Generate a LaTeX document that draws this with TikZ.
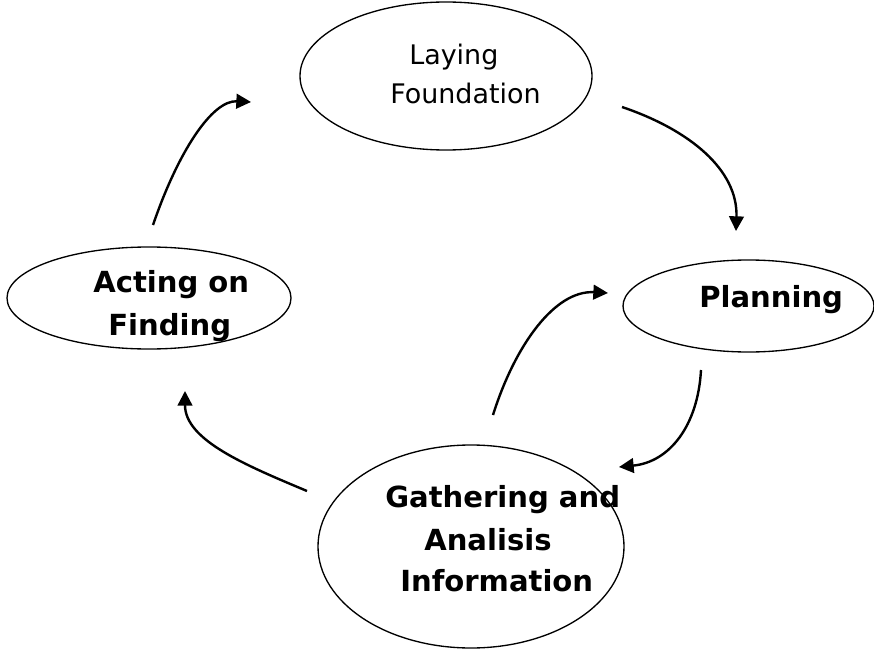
\documentclass[tikz,border=0pt]{standalone}
\usepackage{fontspec}
\setmainfont{DejaVu Sans}
\usetikzlibrary{shapes.geometric,arrows.meta}
\tikzset{
  oval/.style={ellipse, draw, line width=1pt, inner sep=0pt},
  reg/.style={anchor=base west, inner sep=0pt, font=\fontsize{20.2pt}{24pt}\selectfont},
  bld/.style={anchor=base west, inner sep=0pt, font=\fontsize{21.8pt}{26pt}\selectfont\bfseries},
  flow/.style={line width=1.8pt, -{Triangle[length=11pt,width=11pt]}}
}
\begin{document}
\begin{tikzpicture}[x=0.75pt,y=-0.75pt]
\useasboundingbox (0,0) rectangle (874,649);
% ellipses
\node[oval, minimum width=219pt, minimum height=111pt] (lay) at (446,76) {};
\node[oval, minimum width=213pt, minimum height=76.5pt] (act) at (149,298) {};
\node[oval, minimum width=188.25pt, minimum height=69pt] (plan) at (748.5,306) {};
\node[oval, minimum width=229.5pt, minimum height=152.25pt] (gat) at (471,546.5) {};
% texts
\node[reg] (t1) at (409,65) {Laying};
\node[reg] (t2) at (390,104) {Foundation};
\node[bld] (t3) at (93,292) {Acting on};
\node[bld] (t4) at (108,335) {Finding};
\node[bld] (t5) at (699,307) {Planning};
\node[bld] (t6) at (385,507) {Gathering and};
\node[bld] (t7) at (424,550) {Analisis};
\node[bld] (t8) at (400,591) {Information};
% arrow end points
\coordinate (a1s) at (153,225); \coordinate (a1e) at (251,102);
\coordinate (a2s) at (622,107); \coordinate (a2e) at (736,231);
\coordinate (a3s) at (493,415); \coordinate (a3e) at (608,293);
\coordinate (a4s) at (701,370); \coordinate (a4e) at (619,467);
\coordinate (a5s) at (307,491); \coordinate (a5e) at (185,391);
\draw[flow] (a1s) .. controls (178,152) and (212,100) .. (a1e);
\draw[flow] (a2s) .. controls (690,130) and (738,170) .. (a2e);
\draw[flow] (a3s) .. controls (515,345) and (555,290) .. (a3e);
\draw[flow] (a4s) .. controls (698,425) and (670,462) .. (a4e);
\draw[flow] (a5s) .. controls (245,465) and (185,440) .. (a5e);
\end{tikzpicture}
\end{document}
